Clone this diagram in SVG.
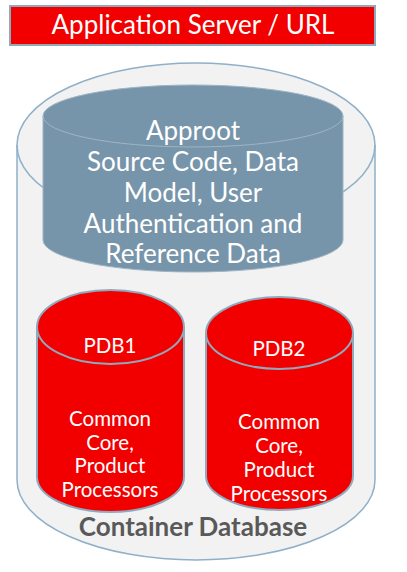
<svg xmlns="http://www.w3.org/2000/svg" width="407" height="572" viewBox="0 0 407 572">
<style>
text{font-family:Lato,"Open Sans","Liberation Sans",sans-serif;text-anchor:middle;fill:#fff}
.t{font-size:26px}
.g{font-size:26px}
.p{font-size:20.5px}
.c{font-size:26px;font-weight:bold;fill:#595959}
.red{fill:#f20000;stroke:#8fa9bd;stroke-width:2}
</style>
<rect width="407" height="572" fill="#fff"/>
<g id="app-server">
<rect x="10" y="6" width="365" height="39" class="red"/>
<text class="t" x="193" y="34">Application Server / URL</text>
</g>
<g id="container-db">
<path d="M17,145 A179,82 0 0 1 375,145 L375,480 A179,80 0 0 1 17,480 Z" fill="#f2f2f2" stroke="#8fb0c8" stroke-width="1.5"/>
<path d="M17,145 A179,82 0 0 0 375,145" fill="none" stroke="#8fb0c8" stroke-width="1.5"/>
<text class="c" x="193" y="536">Container Database</text>
</g>
<g id="approot">
<path d="M43,116 A150,31 0 0 1 343,116 L343,240 A150,32 0 0 1 43,240 Z" fill="#7795aa" stroke="#9fb4c4" stroke-width="1"/>
<path d="M43,116 A150,31 0 0 0 343,116" fill="none" stroke="#9fb4c4" stroke-width="1"/>
<text class="g" x="193" y="140">Approot</text>
<text class="g" x="193" y="171">Source Code, Data</text>
<text class="g" x="193" y="202">Model, User</text>
<text class="g" x="193" y="233">Authentication and</text>
<text class="g" x="193" y="263">Reference Data</text>
</g>
<g id="pdb1">
<path d="M37,327 A73.5,37 0 0 1 184,327 L184,477 A73.5,35 0 0 1 37,477 Z" class="red"/>
<path d="M37,327 A73.5,37 0 0 0 184,327" fill="none" stroke="#8fa9bd" stroke-width="2"/>
<text class="p" x="110" y="353">PDB1</text>
<text class="p" x="110" y="426">Common</text>
<text class="p" x="110" y="450">Core,</text>
<text class="p" x="110" y="473">Product</text>
<text class="p" x="110" y="497">Processors</text>
</g>
<g id="pdb2">
<path d="M206,333 A73.5,36 0 0 1 353,333 L353,476 A73.5,34 0 0 1 206,476 Z" class="red"/>
<path d="M206,333 A73.5,36 0 0 0 353,333" fill="none" stroke="#8fa9bd" stroke-width="2"/>
<text class="p" x="279" y="356">PDB2</text>
<text class="p" x="279" y="429">Common</text>
<text class="p" x="279" y="453">Core,</text>
<text class="p" x="279" y="477">Product</text>
<text class="p" x="279" y="501">Processors</text>
</g>
<g id="connectors"/>
</svg>
